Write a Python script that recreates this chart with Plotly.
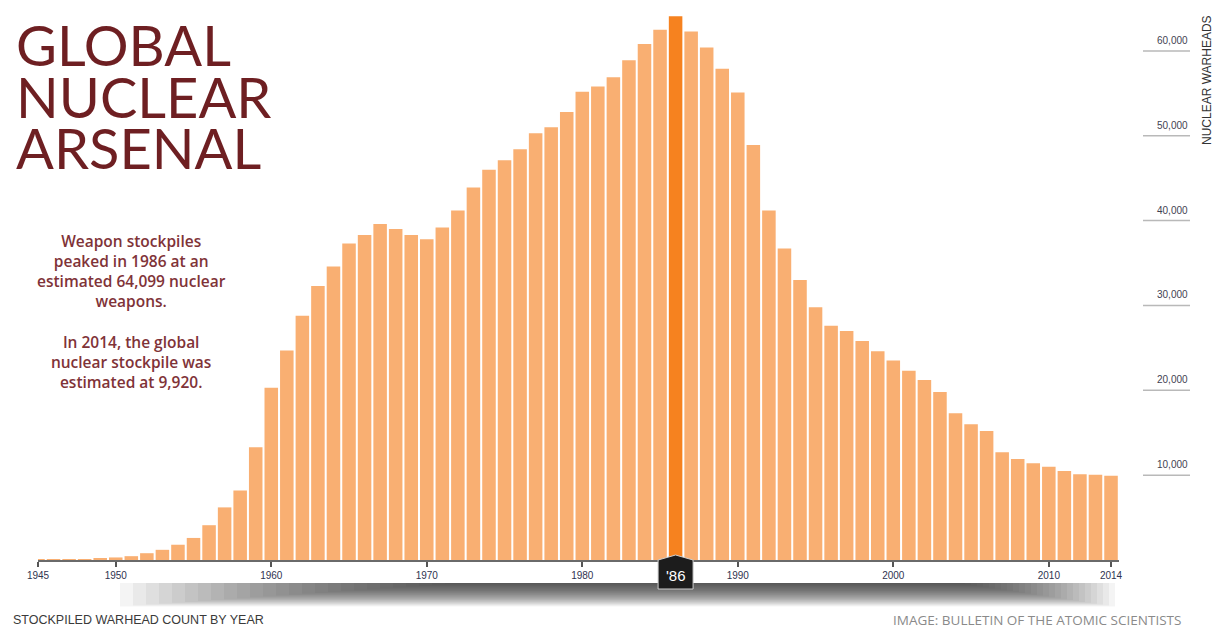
import plotly.graph_objects as go

# Global nuclear warhead stockpile, 1945-2014
years = list(range(1945, 2015))
warheads = [
    2, 9, 13, 50, 170,
    300, 450, 800, 1200, 1800, 2600, 4100, 6200, 8200, 13300,
    20300, 24700, 28800, 32300, 34600, 37300, 38300, 39600, 39000, 38300,
    37800, 39200, 41200, 43900, 46000, 47100, 48400, 50300, 51000, 52800,
    55200, 55800, 56900, 58900, 60800, 62500, 64099, 62300, 60400, 57900,
    55100, 48900, 41200, 36700, 33000, 29800, 27600, 27000, 25800, 24600,
    23500, 22300, 21200, 19800, 17300, 16000, 15200, 12700, 11900, 11400,
    11000, 10500, 10100, 10050, 9920,
]
peak_year = 1986
x_tick_years = [1945, 1950, 1960, 1970, 1980, 1990, 2000, 2010, 2014]
y_tick_values = [10000, 20000, 30000, 40000, 50000, 60000]

W, H = 1216, 629
BAR = "#F9AF72"
BAR_PEAK = "#F6821F"
MAROON = "#6E1F22"
TEXT_MAROON = "#7F3338"
BASE_Y = 560  # pixel row of the baseline


def px(x):
    return x / W


def py(y):
    return 1 - y / H


colors = [BAR_PEAK if y == peak_year else BAR for y in years]

fig = go.Figure(
    go.Bar(
        x=years,
        y=warheads,
        marker=dict(color=colors, line=dict(width=0)),
        hoverinfo="x+y",
    )
)

shapes = []
annotations = []

# soft drop shadow under the axis strip
n_layers = 26
for i in range(n_layers):
    shapes.append(dict(
        type="rect", xref="paper", yref="paper", layer="below",
        x0=px(120 + i * 13), x1=px(1115 - i * 6),
        y0=py(583), y1=py(583 + 0.9 * (n_layers - i)),
        fillcolor="#2e2e2e", opacity=0.05, line=dict(width=0),
    ))

# short reference rules with values on the right
for v in y_tick_values:
    shapes.append(dict(
        type="line", xref="paper", yref="y",
        x0=px(1143), x1=px(1190), y0=v, y1=v,
        line=dict(color="#b9b9b9", width=1.5),
    ))
    annotations.append(dict(
        x=px(1190), y=v, xref="paper", yref="y",
        text=f"{v:,}", showarrow=False, xanchor="right", yanchor="bottom",
        yshift=3, font=dict(family="Liberation Sans", size=10, color="#3f3f52"),
    ))

# year marker badge at the peak
shapes.append(dict(
    type="path", xref="x", yref="paper",
    xsizemode="pixel", ysizemode="pixel", xanchor=peak_year, yanchor=py(BASE_Y),
    path="M -17.5,-29 L 17.5,-29 L 17.5,0 L 0,5 L -17.5,0 Z",
    fillcolor="#1c1c1c", line=dict(color="#cfcfcf", width=1),
))
annotations.append(dict(
    x=peak_year, y=0, xref="x", yref="y", text=f"'{peak_year % 100}",
    showarrow=False, yshift=-15,
    font=dict(family="Liberation Sans", size=15, color="white"),
))

# title block
for i, line in enumerate(["GLOBAL", "NUCLEAR", "ARSENAL"]):
    annotations.append(dict(
        x=px(14), y=py(44 + i * 51.5), xref="paper", yref="paper",
        text=line, showarrow=False, xanchor="left", yanchor="middle",
        height=48, valign="middle",
        font=dict(family="Lato", size=56, color=MAROON),
    ))

annotations.append(dict(
    x=px(131), y=py(228), xref="paper", yref="paper",
    text=("Weapon stockpiles<br>peaked in 1986 at an<br>estimated 64,099 nuclear"
          "<br>weapons.<br><br>In 2014, the global<br>nuclear stockpile was"
          "<br>estimated at 9,920."),
    showarrow=False, xanchor="center", yanchor="top", align="center",
    font=dict(family="Open Sans", size=15.5, color=TEXT_MAROON, weight=600),
))

annotations.append(dict(
    x=px(1207), y=py(80), xref="paper", yref="paper",
    text="NUCLEAR WARHEADS", textangle=-90, showarrow=False,
    xanchor="center", yanchor="middle",
    font=dict(family="Liberation Sans", size=12, color="#333333"),
))

annotations.append(dict(
    x=px(11), y=py(620), xref="paper", yref="paper",
    text="STOCKPILED WARHEAD COUNT BY YEAR", showarrow=False,
    xanchor="left", yanchor="middle",
    font=dict(family="Liberation Sans", size=12.5, color="#3a3a3a"),
))
annotations.append(dict(
    x=px(1183), y=py(620), xref="paper", yref="paper",
    text="IMAGE: BULLETIN OF THE ATOMIC SCIENTISTS", showarrow=False,
    xanchor="right", yanchor="middle",
    font=dict(family="Open Sans", size=13.5, color="#8a8a8a"),
))

fig.update_layout(
    width=W, height=H,
    margin=dict(l=0, r=0, t=0, b=0, autoexpand=False),
    paper_bgcolor="white", plot_bgcolor="white",
    bargap=0.13, showlegend=False,
    shapes=shapes, annotations=annotations,
    xaxis=dict(
        domain=[px(38), px(1118.8)], range=[1945, 2014.5],
        automargin=False,
        tickvals=x_tick_years, ticktext=[str(y) for y in x_tick_years],
        ticks="outside", ticklen=5, tickwidth=1.5, tickcolor="#555555",
        showline=True, linecolor="#6a6a6a", linewidth=1.5,
        showgrid=False, zeroline=False, fixedrange=True,
        tickfont=dict(family="Liberation Sans", size=10, color="#2f3350"),
    ),
    yaxis=dict(
        domain=[py(BASE_Y), 1.0], range=[0, 66000],
        visible=False, fixedrange=True, automargin=False,
    ),
)

fig.write_html("out.html")
